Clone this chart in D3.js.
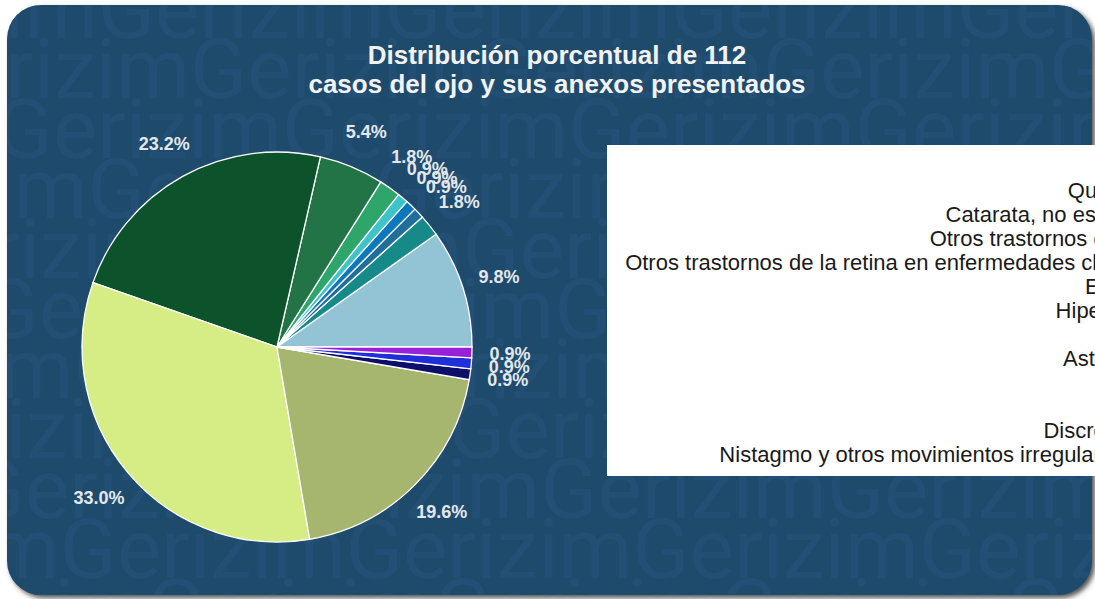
<!DOCTYPE html>
<html>
<head>
<meta charset="utf-8">
<script src="https://cdn.jsdelivr.net/npm/d3@7"></script>
<style>
  html, body { margin: 0; padding: 0; background: #fff; }
  svg { display: block; }
</style>
</head>
<body>
<script>
// datos (en orden de la torta, desde las 3 en punto y en sentido antihorario)
const categorias = [
  "Calacio",
  "Queratocono",
  "Catarata, no especificada",
  "Otros trastornos de la úvea",
  "Otros trastornos de la retina en enfermedades clasificadas",
  "Estrabismo",
  "Hipermetropía",
  "Miopía",
  "Astigmatismo",
  "Orzuelo",
  "Uveítis",
  "Discromatopsia",
  "Nistagmo y otros movimientos irregulares del ojo",
];
const casos = [11, 2, 1, 1, 1, 2, 6, 26, 37, 22, 1, 1, 1];
const colores = [
  "#93c4d6", "#168a88", "#216e9b", "#0b78bd", "#3ec3c8", "#2ea66b",
  "#227446", "#0c532c", "#d6ec84", "#a7b66f", "#0d0f6b", "#1f2fd9", "#9a20d8",
];
const titulo = ["Distribución porcentual de 112", "casos del ojo y sus anexos presentados"];
const marcaAgua = "Gerizim";

const W = 1095, H = 599;
const total = d3.sum(casos);

const svg = d3.select("body")
  .append("svg")
  .attr("width", W)
  .attr("height", H);

const defs = svg.append("defs");
defs.append("filter")
  .attr("id", "sombra")
  .attr("x", "-5%").attr("y", "-5%")
  .attr("width", "110%").attr("height", "110%")
  .append("feGaussianBlur")
  .attr("stdDeviation", 2.5);
defs.append("clipPath")
  .attr("id", "tarjeta")
  .append("rect")
  .attr("x", 7).attr("y", 5)
  .attr("width", 1085).attr("height", 590)
  .attr("rx", 34).attr("ry", 34);

// sombra y fondo
svg.append("rect")
  .attr("x", 10).attr("y", 8)
  .attr("width", 1085).attr("height", 590)
  .attr("rx", 34).attr("ry", 34)
  .attr("fill", "#555")
  .attr("filter", "url(#sombra)");

const fondo = svg.append("g").attr("clip-path", "url(#tarjeta)");
fondo.append("rect")
  .attr("x", 0).attr("y", 0)
  .attr("width", W).attr("height", H)
  .attr("fill", "#1e4a6c");

// marca de agua
const filas = d3.range(11);
fondo.selectAll("text.agua")
  .data(filas)
  .enter()
  .append("text")
  .attr("class", "agua")
  .attr("x", k => -185 + ((k * 92) % 290) - 290)
  .attr("y", k => 38 + k * 60)
  .attr("font-family", "Roboto, sans-serif")
  .attr("font-size", 84)
  .attr("fill", "#234f74")
  .text(marcaAgua.repeat(6));

// titulo
svg.append("text")
  .attr("x", 557)
  .attr("y", 64)
  .attr("text-anchor", "middle")
  .attr("font-family", "'Liberation Sans', Arial, sans-serif")
  .attr("font-weight", "bold")
  .attr("font-size", 26)
  .attr("fill", "#f2f2f2")
  .selectAll("tspan")
  .data(titulo)
  .enter()
  .append("tspan")
  .attr("x", 557)
  .attr("dy", (d, i) => i ? 29 : 0)
  .text(d => d);

// torta
const cx = 277, cy = 347, r = 195;
const pie = d3.pie()
  .sort(null)
  .startAngle(Math.PI / 2)
  .endAngle(Math.PI / 2 - 2 * Math.PI);
const arcos = pie(casos);
const arc = d3.arc().innerRadius(0).outerRadius(r);
const arcEtiqueta = d3.arc().innerRadius(233).outerRadius(233);

const torta = svg.append("g").attr("transform", `translate(${cx},${cy})`);
torta.selectAll("path")
  .data(arcos)
  .enter()
  .append("path")
  .attr("d", arc)
  .attr("fill", (d, i) => colores[i])
  .attr("stroke", "#fff")
  .attr("stroke-width", 1.3);

const fmt = d3.format(".1f");
torta.selectAll("text")
  .data(arcos)
  .enter()
  .append("text")
  .attr("transform", d => `translate(${arcEtiqueta.centroid(d)})`)
  .attr("text-anchor", "middle")
  .attr("dy", "0.36em")
  .attr("font-family", "'Liberation Sans', Arial, sans-serif")
  .attr("font-weight", "bold")
  .attr("font-size", 18)
  .attr("fill", "#e4e8ec")
  .text(d => fmt(d.data / total * 100) + "%");

// leyenda
const leyenda = svg.append("g");
leyenda.append("rect")
  .attr("x", 607).attr("y", 145)
  .attr("width", 700).attr("height", 331)
  .attr("fill", "#fff");

const yLeyenda = d3.scalePoint()
  .domain(d3.range(categorias.length))
  .range([166, 454]);

leyenda.selectAll("text")
  .data(categorias)
  .enter()
  .append("text")
  .attr("x", 1195)
  .attr("y", (d, i) => yLeyenda(i))
  .attr("dy", "0.36em")
  .attr("text-anchor", "end")
  .attr("font-family", "'Liberation Sans', Arial, sans-serif")
  .attr("font-size", 22)
  .attr("fill", "#1a1a1a")
  .text(d => d);
</script>
</body>
</html>
